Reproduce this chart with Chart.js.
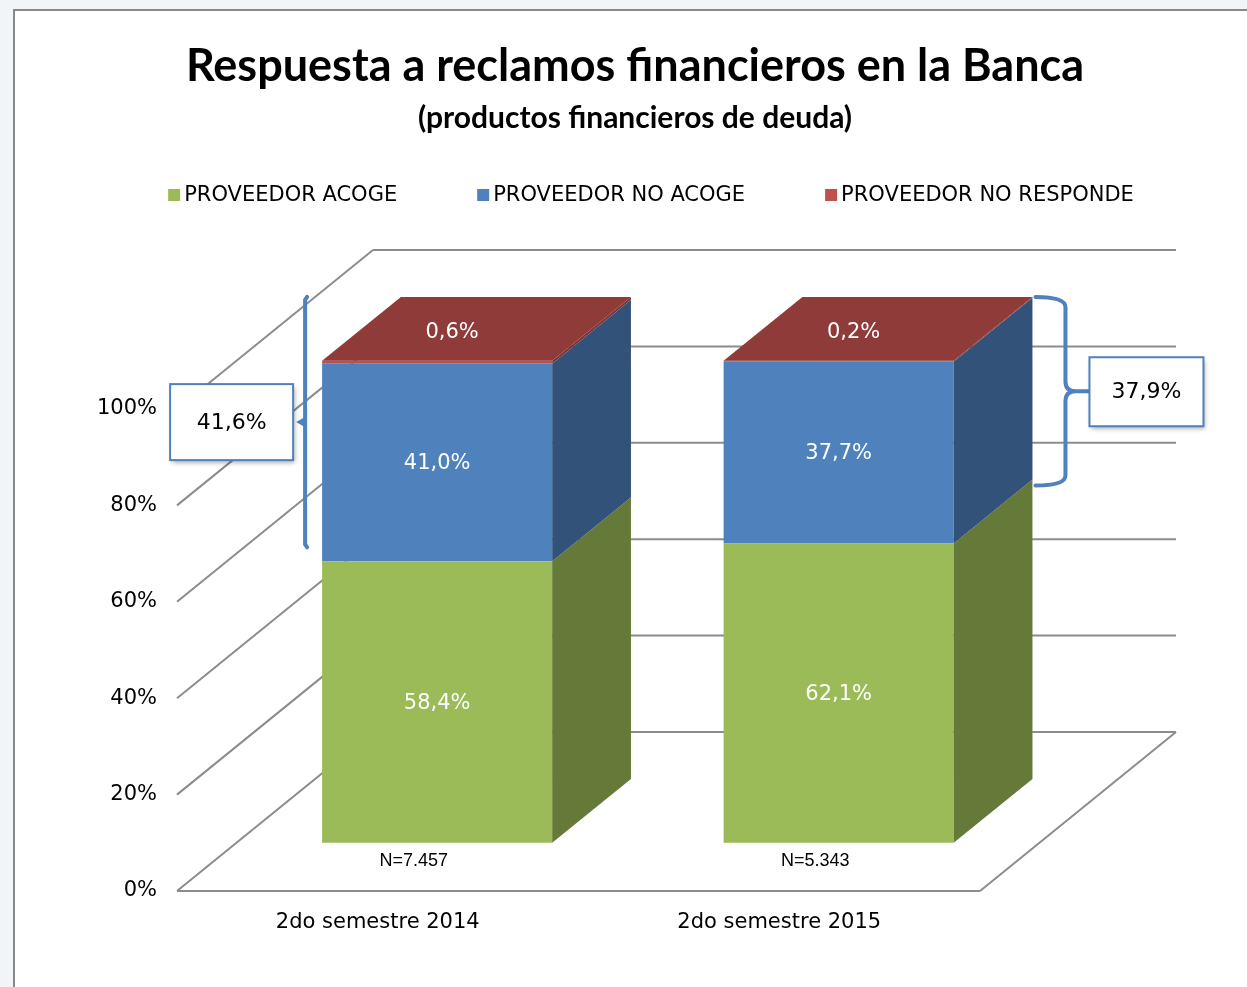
<!DOCTYPE html>
<html>
<head>
<meta charset="utf-8">
<script src="https://cdn.jsdelivr.net/npm/chart.js@4.4.1/dist/chart.umd.min.js"></script>
<style>
	html, body { margin: 0; padding: 0; width: 1247px; height: 987px; overflow: hidden; background: #f1f5f8; }
	#frame { position: absolute; left: 13px; top: 9px; width: 1300px; height: 1100px; background: #fff; border: 2px solid #8a8a8a; }
	#wrap { position: absolute; left: 0; top: 0; width: 1247px; height: 987px; }
</style>
</head>
<body>
<div id="frame"></div>
<div id="wrap"><canvas id="chart" width="1247" height="987"></canvas></div>
<script>
// Data
const categories = ["2do semestre 2014", "2do semestre 2015"];
const seriesNames = ["PROVEEDOR ACOGE", "PROVEEDOR NO ACOGE", "PROVEEDOR NO RESPONDE"];
const acoge = [58.4, 62.1];
const noAcoge = [41.0, 37.7];
const noResponde = [0.6, 0.2];
const sampleSizes = ["N=7.457", "N=5.343"];
const bracketValues = [41.6, 37.9];

// Office colours: front, side and top faces
const frontColors = ["#9bbb59", "#4f81bd", "#c0504d"];
const sideColors = ["#657a39", "#32527a", "#7d3432"];
const topColors = ["#7f9a47", "#3f6797", "#8e3b3a"];

// Oblique 3D projection: full depth of floor and where the bars sit in it
const DEPTH_X = 196;
const DEPTH_Y = -159;
const BAR_FRONT = 0.303;
const BAR_BACK = 0.705;
const shift = { x: DEPTH_X * BAR_FRONT, y: DEPTH_Y * BAR_FRONT };
const barDepth = { x: DEPTH_X * (BAR_BACK - BAR_FRONT), y: DEPTH_Y * (BAR_BACK - BAR_FRONT) };

const FONT = "'DejaVu Sans', Verdana, sans-serif";

function fmt(v) {
	return v.toFixed(1).replace(".", ",") + "%";
}

function line(ctx, x1, y1, x2, y2) {
	ctx.beginPath();
	ctx.moveTo(x1, y1);
	ctx.lineTo(x2, y2);
	ctx.stroke();
}

/**
 * Walls, floor and 3D faces of the stacked columns
 */
const box3d = {
	id: "box3d",
	beforeDatasetsDraw(chart) {
		const { ctx, chartArea: { left, right, bottom }, scales: { y } } = chart;
		ctx.save();
		ctx.strokeStyle = "#8c8c8c";
		ctx.lineWidth = 2;
		y.ticks.forEach((t) => {
			const py = y.getPixelForValue(t.value);
			line(ctx, left, py, left + DEPTH_X, py + DEPTH_Y);
			line(ctx, left + DEPTH_X, py + DEPTH_Y, right + DEPTH_X, py + DEPTH_Y);
		});
		line(ctx, left, bottom, right, bottom);
		line(ctx, right, bottom, right + DEPTH_X, bottom + DEPTH_Y);
		ctx.restore();

		// Front faces are drawn by Chart.js, pushed back into the box
		ctx.save();
		ctx.translate(shift.x, shift.y);
	},
	afterDatasetsDraw(chart) {
		const { ctx } = chart;
		ctx.restore();

		const n = chart.data.labels.length;
		for (let i = 0; i < n; i++) {
			let topIndex = 0;
			chart.data.datasets.forEach((ds, d) => {
				const el = chart.getDatasetMeta(d).data[i];
				if (ds.data[i] > 0) topIndex = d;
				const xr = el.x + el.width / 2 + shift.x;
				const yt = el.y + shift.y;
				const yb = el.base + shift.y;
				ctx.fillStyle = sideColors[d];
				ctx.beginPath();
				ctx.moveTo(xr, yt);
				ctx.lineTo(xr + barDepth.x, yt + barDepth.y);
				ctx.lineTo(xr + barDepth.x, yb + barDepth.y);
				ctx.lineTo(xr, yb);
				ctx.closePath();
				ctx.fill();
			});
			const el = chart.getDatasetMeta(topIndex).data[i];
			const xl = el.x - el.width / 2 + shift.x;
			const xr = el.x + el.width / 2 + shift.x;
			const yt = el.y + shift.y;
			ctx.fillStyle = topColors[topIndex];
			ctx.beginPath();
			ctx.moveTo(xl, yt);
			ctx.lineTo(xr, yt);
			ctx.lineTo(xr + barDepth.x, yt + barDepth.y);
			ctx.lineTo(xl + barDepth.x, yt + barDepth.y);
			ctx.closePath();
			ctx.fill();
		}
	},
	afterDraw(chart) {
		const { ctx, scales: { x, y } } = chart;
		ctx.save();

		// value labels
		ctx.textAlign = "center";
		ctx.textBaseline = "middle";
		ctx.font = "21px " + FONT;
		ctx.fillStyle = "#ffffff";
		chart.data.datasets.forEach((ds, d) => {
			chart.getDatasetMeta(d).data.forEach((el, i) => {
				if (d === 2) {
					ctx.fillText(fmt(ds.data[i]), el.x + shift.x + 15, el.y + shift.y - 28);
				} else {
					ctx.fillText(fmt(ds.data[i]), el.x + shift.x, (el.y + el.base) / 2 + shift.y + 1);
				}
			});
		});

		// sample sizes under the columns
		ctx.fillStyle = "#000000";
		ctx.font = "18px 'Liberation Sans Narrow', 'Liberation Sans', sans-serif";
		sampleSizes.forEach((s, i) => {
			ctx.fillText(s, x.getPixelForValue(i) + 36, y.getPixelForValue(0) - 30);
		});

		// legend
		ctx.font = "21px " + FONT;
		ctx.textAlign = "left";
		const gap = 80;
		const widths = seriesNames.map((s) => 16 + ctx.measureText(s).width);
		const total = widths.reduce((a, b) => a + b, 0) + gap * (widths.length - 1);
		let lx = 651 - total / 2;
		seriesNames.forEach((s, i) => {
			ctx.fillStyle = frontColors[i];
			ctx.fillRect(lx, 189, 12, 12);
			ctx.fillStyle = "#000000";
			ctx.fillText(s, lx + 16, 196);
			lx += widths[i] + gap;
		});

		// brackets and boxes
		const green = chart.getDatasetMeta(0).data;
		const red = chart.getDatasetMeta(2).data;
		ctx.strokeStyle = "#4f81bd";
		ctx.lineWidth = 4;
		ctx.lineCap = "round";

		// left column: plain bracket on its left
		const b1x = green[0].x - green[0].width / 2 + shift.x - 17;
		const b1top = red[0].y + shift.y + barDepth.y;
		const b1bot = green[0].y + shift.y - 14;
		const b1mid = (b1top + b1bot) / 2;
		ctx.beginPath();
		ctx.moveTo(b1x + 2, b1top);
		ctx.lineTo(b1x, b1top + 3);
		ctx.lineTo(b1x, b1bot - 3);
		ctx.lineTo(b1x + 2, b1bot);
		ctx.moveTo(b1x, b1mid - 3);
		ctx.lineTo(b1x - 5, b1mid);
		ctx.lineTo(b1x, b1mid + 3);
		ctx.stroke();

		// right column: curly bracket on its right
		const x0 = green[1].x + green[1].width / 2 + shift.x + barDepth.x + 3;
		const b2x = x0 + 30;
		const b2top = red[1].y + shift.y + barDepth.y;
		const b2bot = green[1].y + shift.y + barDepth.y + 6;
		const b2mid = (b2top + b2bot) / 2;
		const r = 10;
		ctx.beginPath();
		ctx.moveTo(x0, b2top);
		ctx.quadraticCurveTo(b2x, b2top, b2x, b2top + r);
		ctx.lineTo(b2x, b2mid - r);
		ctx.quadraticCurveTo(b2x, b2mid, b2x + r, b2mid);
		ctx.lineTo(b2x + 24, b2mid);
		ctx.moveTo(b2x + r, b2mid);
		ctx.quadraticCurveTo(b2x, b2mid, b2x, b2mid + r);
		ctx.lineTo(b2x, b2bot - r);
		ctx.quadraticCurveTo(b2x, b2bot, x0, b2bot);
		ctx.stroke();

		const boxes = [
			{ x: b1x - 135, y: b1mid - 38, w: 123, h: 76, v: bracketValues[0] },
			{ x: b2x + 24, y: b2mid - 34, w: 114, h: 69, v: bracketValues[1] }
		];
		boxes.forEach((b) => {
			ctx.save();
			ctx.shadowColor = "rgba(0,0,0,0.35)";
			ctx.shadowBlur = 5;
			ctx.shadowOffsetX = 2;
			ctx.shadowOffsetY = 3;
			ctx.fillStyle = "#ffffff";
			ctx.fillRect(b.x, b.y, b.w, b.h);
			ctx.restore();
			ctx.lineWidth = 2;
			ctx.strokeStyle = "#4f81bd";
			ctx.strokeRect(b.x, b.y, b.w, b.h);
			ctx.fillStyle = "#000000";
			ctx.textAlign = "center";
			ctx.font = "22px " + FONT;
			ctx.fillText(fmt(b.v), b.x + b.w / 2, b.y + b.h / 2 + 1);
		});

		ctx.restore();
	}
};

const datasets = [acoge, noAcoge, noResponde].map((values, d) => ({
	label: seriesNames[d],
	data: values,
	backgroundColor: frontColors[d],
	borderWidth: 0,
	barPercentage: 0.573,
	categoryPercentage: 1,
	clip: false
}));

const config = {
	type: "bar",
	data: { labels: categories, datasets: datasets },
	options: {
		responsive: false,
		devicePixelRatio: 1,
		animation: false,
		layout: { padding: { left: 23, right: 0, top: 0, bottom: 0 } },
		plugins: {
			legend: { display: false },
			tooltip: { enabled: false },
			title: {
				display: true,
				text: "Respuesta a reclamos financieros en la Banca",
				color: "#000000",
				font: { family: "Lato", weight: "bold", size: 45, lineHeight: 1.2 },
				padding: { top: 39, bottom: 0 }
			},
			subtitle: {
				display: true,
				text: "(productos financieros de deuda)",
				color: "#000000",
				font: { family: "Lato", weight: "bold", size: 30, lineHeight: 1.2 },
				padding: { top: 7, bottom: 273 }
			}
		},
		scales: {
			x: {
				stacked: true,
				grid: { display: false, drawTicks: false },
				border: { display: false },
				ticks: { color: "#000000", font: { family: FONT, size: 21 }, padding: 19 },
				afterFit: (s) => { s.height = 96; }
			},
			y: {
				stacked: true,
				min: 0,
				max: 100,
				grid: { display: false, drawTicks: false },
				border: { display: false },
				ticks: {
					stepSize: 20,
					color: "#000000",
					font: { family: FONT, size: 21 },
					padding: 20,
					callback: (v) => v + "%"
				},
				afterFit: (s) => { s.width = 154; }
			},
			side: {
				type: "linear",
				position: "right",
				display: true,
				grid: { display: false, drawTicks: false },
				border: { display: false },
				ticks: { display: false },
				afterFit: (s) => { s.width = 267; }
			}
		}
	},
	plugins: [box3d]
};

window.chart = new Chart(document.getElementById("chart"), config);
</script>
</body>
</html>
